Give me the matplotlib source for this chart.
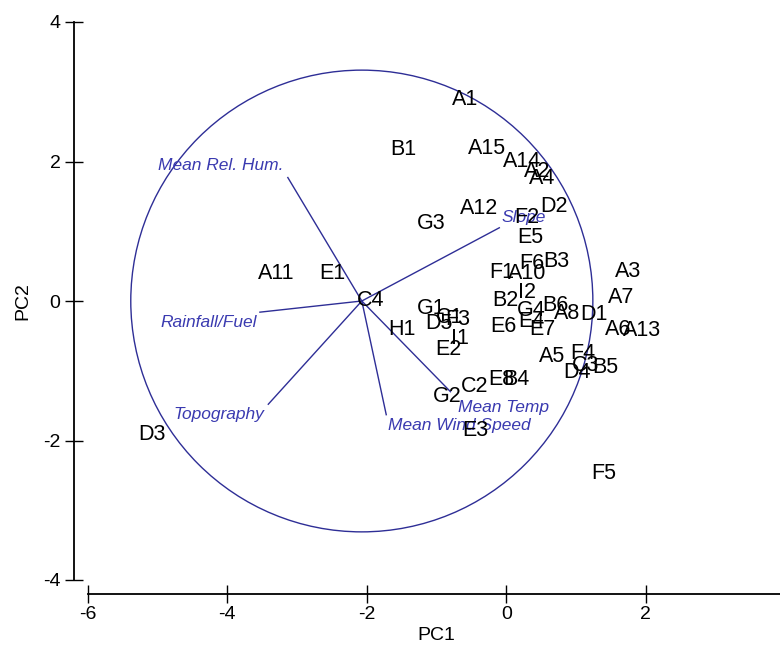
import matplotlib
matplotlib.use("Agg")
import matplotlib.pyplot as plt
from matplotlib.patches import Circle

plt.rcParams['font.family'] = ['Liberation Sans', 'DejaVu Sans']

# ---- sample scores (labels drawn as text at their PC1/PC2 positions)
sample_labels = ["A1", "B1", "A15", "A14", "A2", "A4", "D2", "A12", "G3", "F2",
                 "E5", "F6", "B3", "F1", "A10", "A3", "A7", "A6", "A13", "D1",
                 "F4", "C3", "B5", "D4", "A5", "B6", "A8", "B2", "I2", "G4",
                 "E4", "E6", "E7", "G1", "D5", "C1", "F3", "I1", "E2", "H1",
                 "G2", "C2", "E8", "B4", "E3", "A11", "E1", "C4", "D3", "F5"]
pc1 = [-0.59, -1.48, -0.27, 0.22, 0.44, 0.52, 0.69, -0.39, -1.08, 0.30,
       0.35, 0.37, 0.72, -0.07, 0.30, 1.75, 1.65, 1.60, 1.94, 1.26,
       1.10, 1.13, 1.42, 1.01, 0.65, 0.70, 0.87, -0.02, 0.29, 0.36,
       0.36, -0.04, 0.51, -1.07, -0.96, -0.82, -0.69, -0.66, -0.83, -1.50,
       -0.85, -0.46, -0.07, 0.15, -0.45, -3.30, -2.49, -1.95, -5.07, 1.39]
pc2 = [2.89, 2.17, 2.19, 2.00, 1.85, 1.75, 1.35, 1.33, 1.11, 1.19,
       0.91, 0.54, 0.56, 0.41, 0.40, 0.43, 0.05, -0.41, -0.43, -0.20,
       -0.75, -0.93, -0.95, -1.02, -0.79, -0.06, -0.18, 0.00, 0.12, -0.13,
       -0.30, -0.36, -0.41, -0.11, -0.32, -0.24, -0.27, -0.54, -0.70, -0.41,
       -1.37, -1.23, -1.12, -1.12, -1.85, 0.40, 0.39, 0.00, -1.91, -2.47]

# ---- environmental variable vectors
var_names = ["Mean Rel. Hum.", "Rainfall/Fuel", "Topography",
             "Mean Wind Speed", "Mean Temp", "Slope"]
var_x = [-3.13, -3.53, -3.41, -1.72, -0.80, -0.10]
var_y = [1.77, -0.16, -1.48, -1.63, -1.30, 1.05]
var_label_x = [-4.09, -4.27, -4.12, -0.67, -0.04, 0.25]
var_label_y = [1.94, -0.31, -1.63, -1.78, -1.53, 1.20]
origin_x, origin_y = -2.07, 0.0
circle_radius = 3.31

x_ticks = [-6, -4, -2, 0, 2, 4]
y_ticks = [-4, -2, 0, 2, 4]

line_col = '#2e2e96'
text_col = '#3a3ab0'

fig = plt.figure(figsize=(7.8, 6.48), dpi=100)
ax = fig.add_axes([87.5 / 780, 68 / 648, 698 / 780, 558 / 648])
ax.set_xlim(-6, 4)
ax.set_ylim(-4, 4)

ax.add_patch(Circle((origin_x, origin_y), circle_radius, fill=False,
                    edgecolor=line_col, linewidth=1.0, zorder=1))

for vx, vy in zip(var_x, var_y):
    ax.plot([origin_x, vx], [origin_y, vy], color=line_col, linewidth=1.0, zorder=2)

for name, lx, ly in zip(var_names, var_label_x, var_label_y):
    ax.text(lx, ly, name, color=text_col, fontsize=12.5, style='italic',
            ha='center', va='center', zorder=3)

for lab, x, y in zip(sample_labels, pc1, pc2):
    ax.text(x, y, lab, color='black', fontsize=15.5, ha='center', va='center', zorder=4)

for s in ['top', 'right']:
    ax.spines[s].set_visible(False)
ax.spines['left'].set_position(('outward', 10))
ax.spines['bottom'].set_position(('outward', 10))
ax.spines['left'].set_linewidth(1.3)
ax.spines['bottom'].set_linewidth(1.3)

ax.set_xticks(x_ticks)
ax.set_yticks(y_ticks)
ax.set_xticklabels([str(t) for t in x_ticks])
ax.set_yticklabels([str(t) for t in y_ticks])
ax.tick_params(direction='inout', length=13, width=1.0, labelsize=14, pad=2)
ax.tick_params(axis='y', pad=3)

ax.set_xlabel('PC1', fontsize=14, labelpad=3)
ax.set_ylabel('PC2', fontsize=14, labelpad=8)

fig.savefig('out.png', dpi=100)
